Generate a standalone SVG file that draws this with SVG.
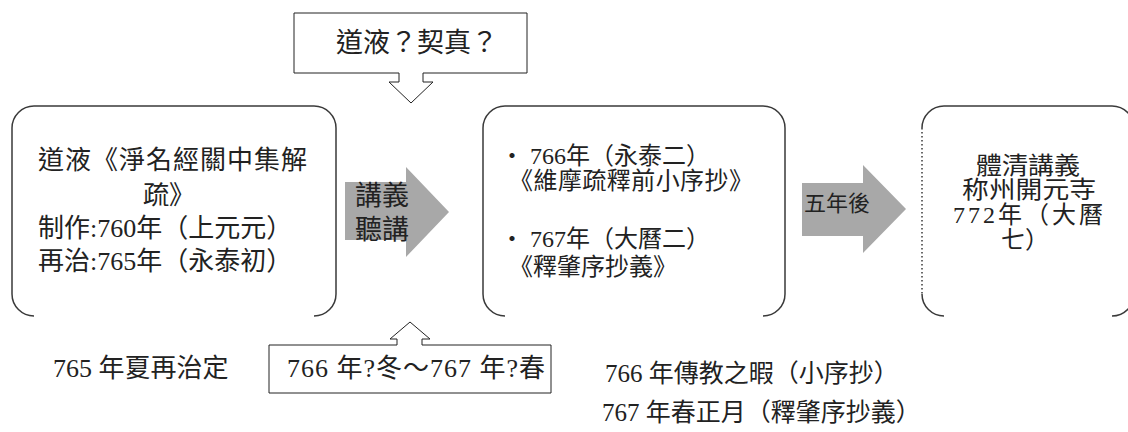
<svg xmlns="http://www.w3.org/2000/svg" width="1128" height="432" viewBox="0 0 1128 432">
<style>
.box{fill:#fff;stroke:#3a3a3a;stroke-width:1.5}
.call{fill:#fff;stroke:#222;stroke-width:1}
.arw{fill:#a8a8a8;stroke:none}
.t{font-family:'Liberation Serif','Times New Roman','Noto Sans CJK TC',serif;fill:#222}
.b1{font-size:26px}
.b2{font-size:24px}
.b3{font-size:24px}
</style>
<rect width="1128" height="432" fill="#fff"/>
<g id="connectors">
  <g id="arrow1">
    <path class="arw" d="M345,182 H406 V167 L449,212 L406,257 V240 H345 Z"/>
    <text class="t" font-size="27" x="355" y="205">講義</text>
    <text class="t" font-size="27" x="355" y="239">聽講</text>
  </g>
  <g id="arrow2">
    <path class="arw" d="M802,183 H863 V165 L906,209 L863,253 V236 H802 Z"/>
    <text class="t" font-size="22" x="804" y="211">五年後</text>
  </g>
</g>
<g id="node-daoye">
  <path class="box" d="M34,316 A22,22 0 0 1 12,294 V128 A22,22 0 0 1 34,106 H314 A22,22 0 0 1 336,128 V294 A22,22 0 0 1 314,316"/>
  <text class="t b1" x="38" y="169" textLength="269" lengthAdjust="spacing">道液《淨名經關中集解</text>
  <text class="t b1" x="143" y="204">疏》</text>
  <text class="t b1" x="38" y="237">制作:760年（上元元）</text>
  <text class="t b1" x="38" y="270">再治:765年（永泰初）</text>
</g>
<g id="node-works">
  <path class="box" d="M505,316 A22,22 0 0 1 483,294 V128 A22,22 0 0 1 505,106 H763 A22,22 0 0 1 785,128 V294 A22,22 0 0 1 763,316"/>
  <text class="t b2" y="164"><tspan x="500">・</tspan><tspan x="530">766年（永泰二）</tspan></text>
  <text class="t b2" x="509" y="189" textLength="244" lengthAdjust="spacing">《維摩疏釋前小序抄》</text>
  <text class="t b2" y="247"><tspan x="500">・</tspan><tspan x="530">767年（大曆二）</tspan></text>
  <text class="t b2" x="509" y="275">《釋肇序抄義》</text>
</g>
<g id="node-tiqing">
  <path class="box" d="M944,316 A22,22 0 0 1 922,294 M922,128 A22,22 0 0 1 944,106 H1112 A22,22 0 0 1 1134,128 V294 A22,22 0 0 1 1112,316"/>
  <line x1="922" y1="128" x2="922" y2="294" stroke="#3a3a3a" stroke-width="1.5" stroke-dasharray="1.5 2.5"/>
  <g class="t b3" text-anchor="middle">
    <text x="1028" y="174" textLength="104" lengthAdjust="spacingAndGlyphs">體清講義</text>
    <text x="1029" y="198" textLength="134" lengthAdjust="spacingAndGlyphs">称州開元寺</text>
    <text x="1028" y="223" textLength="150" lengthAdjust="spacing">772年（大曆</text>
    <text x="1025" y="248">七）</text>
  </g>
</g>
<g id="node-question">
  <path class="call" d="M294,13 H527 V73 H423 V82 H433 L411,103 L389,82 H399 V73 H294 Z"/>
  <text class="t" font-size="27" x="336" y="52">道液？契真？</text>
</g>
<g id="node-period">
  <path class="call" d="M269,345 H397 V339 H390 L410,322 L430,339 H422 V345 H551 V393 H269 Z"/>
  <text class="t" font-size="26" x="287" y="377" textLength="258" lengthAdjust="spacing">766 年?冬～767 年?春</text>
</g>
<g id="note-765">
  <text class="t" font-size="26" x="53" y="377">765 年夏再治定</text>
</g>
<g id="note-766">
  <text class="t" font-size="25" x="605" y="382">766 年傳教之暇（小序抄）</text>
  <text class="t" font-size="25" x="602" y="421">767 年春正月（釋肇序抄義）</text>
</g>
</svg>
